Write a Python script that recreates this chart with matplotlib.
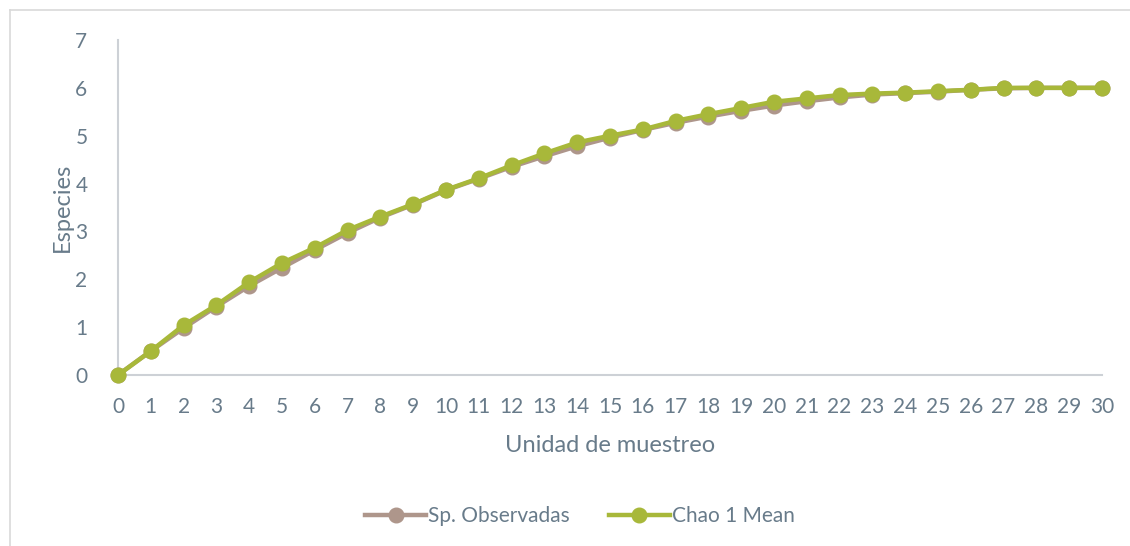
import matplotlib
matplotlib.use("Agg")
import matplotlib.pyplot as plt
from matplotlib.lines import Line2D

# Data
unidades = list(range(0, 31))
sp_observadas = [0, 0.50, 0.98, 1.43, 1.86, 2.24, 2.61, 2.97, 3.29, 3.56, 3.86,
                 4.10, 4.35, 4.57, 4.78, 4.96, 5.12, 5.27, 5.40, 5.52, 5.63,
                 5.72, 5.80, 5.86, 5.89, 5.92, 5.96, 5.99, 6.00, 6.00, 6.00]
chao1_mean = [0, 0.50, 1.04, 1.46, 1.94, 2.34, 2.66, 3.03, 3.31, 3.57, 3.87,
              4.11, 4.38, 4.63, 4.86, 5.00, 5.13, 5.31, 5.45, 5.58, 5.71,
              5.78, 5.85, 5.88, 5.90, 5.93, 5.96, 6.00, 6.00, 6.00, 6.00]
y_ticks = [0, 1, 2, 3, 4, 5, 6, 7]

W, H = 1130, 546
fig = plt.figure(figsize=(W / 100, H / 100), dpi=100)
plt.rcParams['font.family'] = ['Lato', 'DejaVu Sans']
text_color = '#687b8a'
axis_color = '#cdd1d6'
obs_color = '#ae968b'
chao_color = '#a8b83a'

# chart border (top & left visible)
fig.add_artist(Line2D([10 / W, 1.0], [1 - 10 / H, 1 - 10 / H], color='#d9d9d9', lw=1.2))
fig.add_artist(Line2D([10 / W, 10 / W], [0, 1 - 10 / H], color='#d9d9d9', lw=1.2))

ax = fig.add_axes([118 / W, 1 - 375 / H, (1102 - 118) / W, (375 - 40) / H])
ax.plot(unidades, sp_observadas, color=obs_color, lw=3.2, marker='o', ms=10.5,
        label='Sp. Observadas', zorder=3, clip_on=False)
ax.plot(unidades, chao1_mean, color=chao_color, lw=3.2, marker='o', ms=10.5,
        label='Chao 1 Mean', zorder=4, clip_on=False)

ax.set_xlim(0, 30)
ax.set_ylim(0, 7)
ax.set_xticks(unidades)
ax.set_yticks(y_ticks)
for s in ['top', 'right']:
    ax.spines[s].set_visible(False)
for s in ['left', 'bottom']:
    ax.spines[s].set_color(axis_color)
    ax.spines[s].set_linewidth(1.5)
ax.tick_params(axis='both', length=0, labelsize=15, colors=text_color)
ax.tick_params(axis='x', pad=16)
ax.tick_params(axis='y', pad=22)
ax.set_xlabel('Unidad de muestreo', fontsize=17, color=text_color, labelpad=13)
ax.set_ylabel('Especies', fontsize=17, color=text_color, labelpad=2)

leg = fig.legend(loc='center', bbox_to_anchor=(580 / W, 1 - 516 / H), ncol=2,
                 frameon=False, fontsize=15, handlelength=2.9, handletextpad=0.1,
                 columnspacing=1.9)
for t in leg.get_texts():
    t.set_color(text_color)

fig.savefig('out.png', dpi=100)
